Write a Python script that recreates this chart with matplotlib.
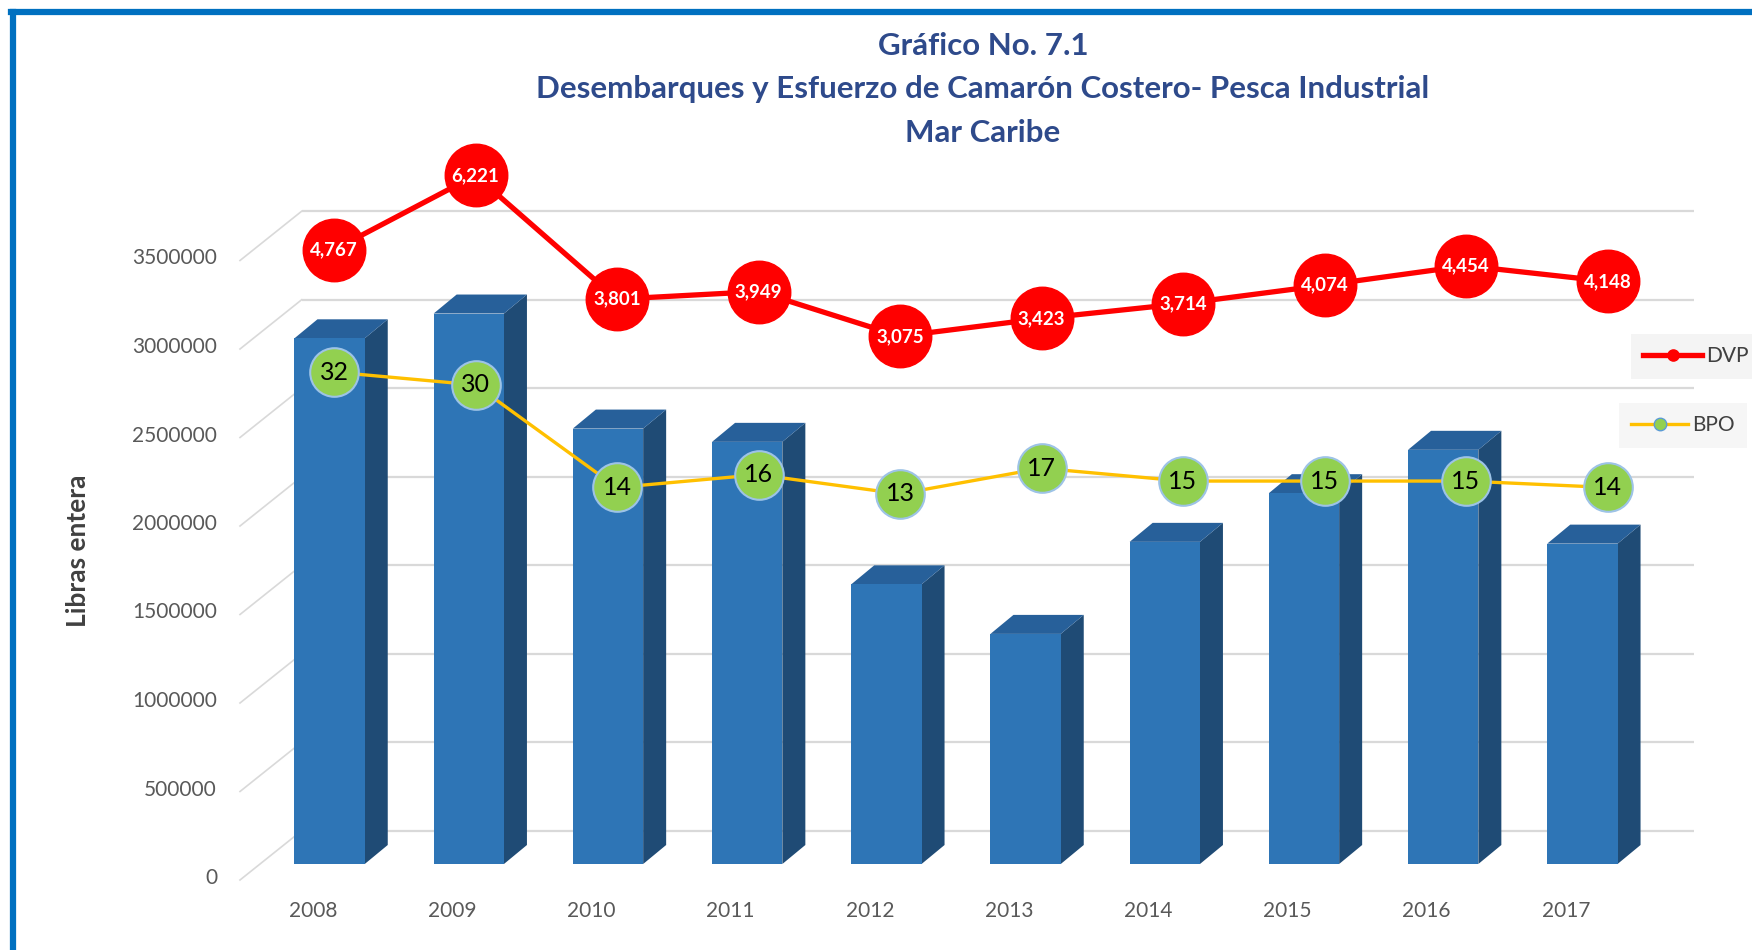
import numpy as np
import matplotlib.pyplot as plt
from matplotlib.lines import Line2D
from matplotlib.patches import Polygon

# Canvas
W, H, DPI = 1752, 950, 100

# Data
years = ['2008', '2009', '2010', '2011', '2012', '2013', '2014', '2015', '2016', '2017']
libras = [2970000, 3110000, 2460000, 2385000, 1580000, 1300000, 1820000, 2095000, 2340000, 1810000]
dvp = [4767, 6221, 3801, 3949, 3075, 3423, 3714, 4074, 4454, 4148]
bpo = [32, 30, 14, 16, 13, 17, 15, 15, 15, 14]
yticks = list(range(0, 3500001, 500000))

title_lines = ['Gráfico No. 7.1',
               'Desembarques y Esfuerzo de Camarón Costero- Pesca Industrial',
               'Mar Caribe']

# Colours
FRONT, SIDE, TOP = '#2E75B6', '#1F4B75', '#27609A'
GRID = '#D9D9D9'
TXT = '#595959'
TITLE_C = '#2E4A8B'

plt.rcParams['font.family'] = ['Lato', 'DejaVu Sans']

fig = plt.figure(figsize=(W / DPI, H / DPI), dpi=DPI)

# Main axes = front plane of the bars (pixel layout measured on the reference)
X0, XSTEP = 260, 139.2        # left edge px, px per category
Y0, YTOP = 864, 156           # zero line px, top px
YMAX = 4000000
ax = fig.add_axes([X0 / W, 1 - Y0 / H, 10 * XSTEP / W, (Y0 - YTOP) / H])
ax.set_xlim(-0.5, 9.5)
ax.set_ylim(0, YMAX)
ax.axis('off')

SY = YMAX / (Y0 - YTOP)       # data units per px (y)


def off(dxp, dyp):
    """pixel offset (y down) -> data offset"""
    return dxp / XSTEP, -dyp * SY


# 3D walls: back gridlines and side-wall diagonals
bdx, bdy = off(41.7, -33.3)
fdx, fdy = off(-20, 16)
for t in yticks:
    ax.plot([-0.5 + bdx, 9.5 + bdx], [t + bdy, t + bdy], color=GRID, lw=1.6,
            zorder=1, clip_on=False, solid_capstyle='butt')
    ax.plot([-0.5 + fdx, -0.5 + bdx], [t + fdy, t + bdy], color=GRID, lw=1.2,
            zorder=1, clip_on=False)
    lx, ly = off(-43, 14)
    ax.text(-0.5 + lx, t + ly, f'{t}', ha='right', va='center',
            fontsize=15, color=TXT)

# Bars with fake depth
x = np.arange(len(years))
bw = 0.505
ddx, ddy = off(23, -19)
ax.bar(x, libras, width=bw, color=FRONT, zorder=3)
for xi, v in zip(x, libras):
    r, l = xi + bw / 2, xi - bw / 2
    ax.add_patch(Polygon([(r, 0), (r, v), (r + ddx, v + ddy), (r + ddx, ddy)],
                         closed=True, facecolor=SIDE, edgecolor='none', zorder=2))
    ax.add_patch(Polygon([(l, v), (r, v), (r + ddx, v + ddy), (l + ddx, v + ddy)],
                         closed=True, facecolor=TOP, edgecolor='none', zorder=2))

# Category labels
cx, cy = off(-16.6, 46.6)
for xi, yr in zip(x, years):
    ax.text(xi + cx, cy, yr, ha='center', va='center', fontsize=15, color=TXT,
            clip_on=False)

# Lines sit slightly in front of the bars -> own axes
LSTEP = 141.5
LX0 = 334 - LSTEP / 2
lax = fig.add_axes([LX0 / W, 1 - Y0 / H, 10 * LSTEP / W, (Y0 - YTOP) / H])
lax.set_xlim(-0.5, 9.5)
lax.set_ylim(-7245, 6600)
lax.axis('off')
bax = lax.twinx()
bax.set_ylim(-44.74, 65.71)
bax.axis('off')

lax.plot(x, dvp, color='#FF0000', lw=3.8, marker='o', ms=45,
         mfc='#FF0000', mec='#FF0000', clip_on=False, zorder=3)
for xi, v in zip(x, dvp):
    lax.text(xi, v, f'{v:,}', ha='center', va='center', color='white',
             fontsize=13.5, fontweight='bold', zorder=4)

bax.plot(x, bpo, color='#FFC000', lw=2.4, marker='o', ms=35,
         mfc='#92D050', mec='#9DC3E6', mew=1.5, clip_on=False, zorder=3)
for xi, v in zip(x, bpo):
    bax.text(xi, v, f'{v}', ha='center', va='center', color='black',
             fontsize=18, zorder=4)

# Legend: two separate boxes on the right
leg_kw = dict(loc='center left', frameon=True, facecolor='#F4F4F4',
              edgecolor='none', fancybox=False, fontsize=15,
              handletextpad=0.2, borderpad=0.6, borderaxespad=0,
              labelcolor='#404040')
leg1 = fig.legend(handles=[Line2D([], [], color='#FF0000', lw=3.8, marker='o', ms=8)],
                  labels=['DVP'], bbox_to_anchor=(1630.5 / W, 1 - 356 / H),
                  handlelength=2.84, **leg_kw)
fig.legend(handles=[Line2D([], [], color='#FFC000', lw=2.4, marker='o', ms=9,
                           mfc='#92D050', mec='#5B9BD5')],
           labels=['BPO'], bbox_to_anchor=(1618.5 / W, 1 - 425 / H),
           handlelength=2.74, **leg_kw)
fig.add_artist(leg1)

# Titles
for y_px, line in zip([46, 89, 133], title_lines):
    fig.text(983 / W, 1 - y_px / H, line, ha='center', va='center',
             fontsize=22.5, fontweight='bold', color=TITLE_C)

fig.text(78 / W, 1 - 551 / H, 'Libras entera', rotation=90, ha='center',
         va='center', fontsize=19, fontweight='bold', color='#404040')

# Blue frame (left and top edges visible)
fig.add_artist(Line2D([13 / W, 13 / W], [0, 1 - 12 / H], color='#0070C0',
                      lw=4.5, transform=fig.transFigure))
fig.add_artist(Line2D([10.5 / W, 1], [1 - 12 / H, 1 - 12 / H], color='#0070C0',
                      lw=4.5, transform=fig.transFigure))

fig.savefig('out.png', dpi=DPI)
